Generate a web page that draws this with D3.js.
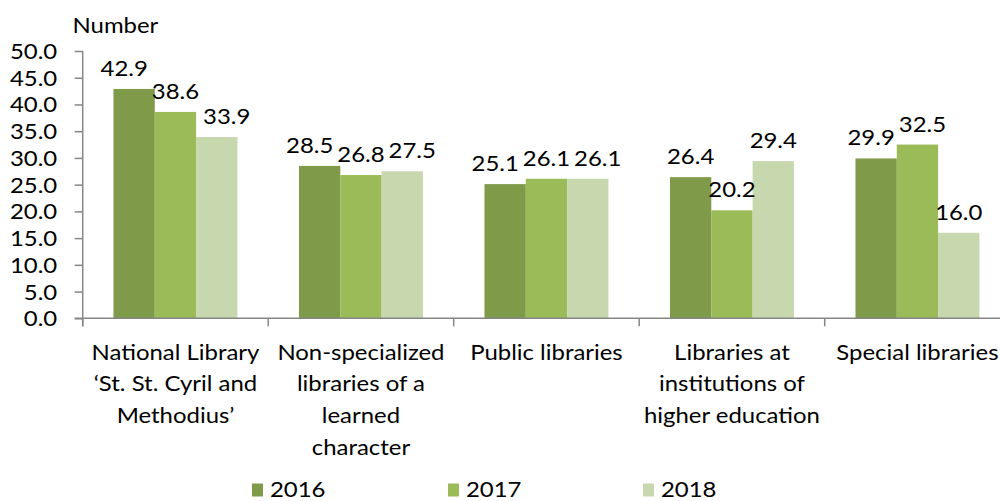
<!DOCTYPE html>
<html>
<head>
<meta charset="utf-8">
<script src="https://cdn.jsdelivr.net/npm/d3@7"></script>
<style>
  html, body { margin: 0; padding: 0; background: #fff; }
  svg { display: block; font-family: Lato, "Open Sans", sans-serif; }
</style>
</head>
<body>
<svg id="chart" width="1000" height="501"></svg>
<script>
// ---- data ----
const categories = [
  ["National Library", "\u2018St. St. Cyril and", "Methodius\u2019"],
  ["Non-specialized", "libraries of a", "learned", "character"],
  ["Public libraries"],
  ["Libraries at", "institutions of", "higher education"],
  ["Special libraries"]
];
const seriesNames = ["2016", "2017", "2018"];
const values2016 = [42.9, 28.5, 25.1, 26.4, 29.9];
const values2017 = [38.6, 26.8, 26.1, 20.2, 32.5];
const values2018 = [33.9, 27.5, 26.1, 29.4, 16.0];
const yTicks = [0, 5, 10, 15, 20, 25, 30, 35, 40, 45, 50];
const yTitle = "Number";

// ---- styles ----
const colors = ["#7f9a48", "#9bbb59", "#c7d7ae"];
const axisColor = "#868686";
const fontSize = 21;
const stretch = 1.14; // horizontal text stretch of the original image

const series = [values2016, values2017, values2018];
const svg = d3.select("#chart");

// helper: place text at (x,y) with horizontal stretch
function placeText(sel, x, y) {
  sel.attr("x", 0).attr("y", 0).attr("transform", `translate(${x},${y}) scale(${stretch},1)`);
  return sel;
}

const plotLeft = 82.7, plotBottom = 318.3, plotTop = 51;
const step = 185.5;
const x0 = d3.scaleBand().domain(d3.range(categories.length))
  .range([plotLeft, plotLeft + step * categories.length]).paddingInner(0).paddingOuter(0);
const x1 = d3.scaleBand().domain(d3.range(series.length))
  .range([0, x0.bandwidth()]).paddingInner(0).paddingOuter(0.745);
const y = d3.scaleLinear().domain([0, 50]).range([plotBottom, plotTop]);

// bars
series.forEach((vals, si) => {
  svg.append("g").selectAll("rect").data(vals).join("rect")
    .attr("x", (d, i) => x0(i) + x1(si))
    .attr("y", d => y(d))
    .attr("width", x1.bandwidth())
    .attr("height", d => y(0) - y(d))
    .attr("fill", colors[si]);
});

// y axis
const yAxis = d3.axisLeft(y).tickValues(yTicks).tickFormat(d3.format(".1f")).tickSize(8).tickPadding(10);
const yg = svg.append("g").attr("transform", `translate(${plotLeft},0)`).call(yAxis);
yg.select(".domain").attr("stroke", axisColor).attr("stroke-width", 1.5).attr("d", `M0,${plotTop}V${plotBottom + 8}`);
yg.selectAll(".tick line").attr("stroke", axisColor).attr("stroke-width", 1.5);
yg.selectAll(".tick text").attr("fill", "#000").style("font-size", fontSize + "px")
  .style("font-family", "Lato, 'Open Sans', sans-serif")
  .attr("dy", null)
  .each(function () { placeText(d3.select(this), -25.5, 7.5); });

// x axis
svg.append("line").attr("x1", plotLeft - 8).attr("x2", 1000).attr("y1", plotBottom).attr("y2", plotBottom)
  .attr("stroke", axisColor).attr("stroke-width", 1.5);
svg.append("g").selectAll("line").data(d3.range(categories.length + 1)).join("line")
  .attr("x1", i => plotLeft + i * x0.step()).attr("x2", i => plotLeft + i * x0.step())
  .attr("y1", plotBottom).attr("y2", plotBottom + 8)
  .attr("stroke", axisColor).attr("stroke-width", 1.5);

// category labels
const catG = svg.append("g");
categories.forEach((lines, i) => {
  const t = catG.append("text").attr("text-anchor", "middle")
    .style("font-size", fontSize + "px").attr("fill", "#000");
  placeText(t, x0(i) + x0.bandwidth() / 2, 359.5);
  lines.forEach((ln, k) => {
    t.append("tspan").attr("x", 0).attr("dy", k === 0 ? 0 : 32).text(ln);
  });
});

// y title
placeText(svg.append("text").style("font-size", fontSize + "px").attr("fill", "#000").text(yTitle), 72.5, 32.5);

// value labels with simple collision avoidance
const labelG = svg.append("g");
categories.forEach((c, ci) => {
  const labs = series.map((vals, si) => {
    const t = labelG.append("text").attr("text-anchor", "middle")
      .style("font-size", fontSize + "px").attr("fill", "#000")
      .text(d3.format(".1f")(vals[ci]));
    const w = t.node().getComputedTextLength() * stretch;
    return { t, cx: x0(ci) + x1(si) + x1.bandwidth() / 2, by: y(vals[ci]) - 13, w };
  });
  for (let iter = 0; iter < 8; iter++) {
    for (let k = 0; k < labs.length - 1; k++) {
      const a = labs[k], b = labs[k + 1];
      if (Math.abs(a.by - b.by) < fontSize * 1.25) {
        const gap = (b.cx - b.w / 2) - (a.cx + a.w / 2);
        if (gap < 4) {
          const push = (4 - gap) / 2;
          a.cx -= push; b.cx += push;
        }
      }
    }
  }
  labs.forEach(l => placeText(l.t, l.cx, l.by));
});

// legend
const legendX = [252, 448, 643];
const lg = svg.append("g");
seriesNames.forEach((n, i) => {
  lg.append("rect").attr("x", legendX[i]).attr("y", 483.5).attr("width", 11).attr("height", 13).attr("fill", colors[i]);
  placeText(lg.append("text").style("font-size", fontSize + "px").attr("fill", "#000").text(n), legendX[i] + 18, 497);
});
</script>
</body>
</html>
